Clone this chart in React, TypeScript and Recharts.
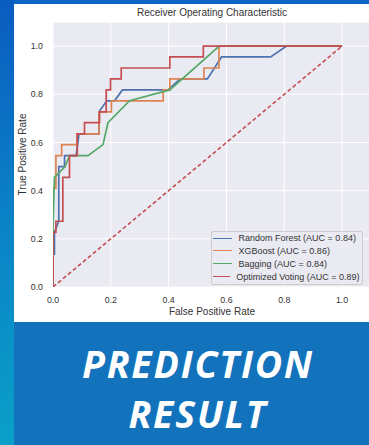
/**
 * ROC curve card — four classifiers plus the chance diagonal,
 * seaborn "darkgrid" look, with a "PREDICTION RESULT" banner below.
 */

import { CartesianGrid, Legend, Line, LineChart, XAxis, YAxis } from "recharts";

const AXIS_TICKS = [0, 0.2, 0.4, 0.6, 0.8, 1.0];

// Random Forest
const rfFpr = [0, 0, 0.005, 0.005, 0.02, 0.02, 0.04, 0.04, 0.08, 0.09, 0.159, 0.159, 0.186, 0.213, 0.24, 0.398, 0.44, 0.534, 0.583, 0.753, 0.808, 1.0];
const rfTpr = [0, 0.136, 0.136, 0.227, 0.273, 0.5, 0.5, 0.545, 0.545, 0.636, 0.636, 0.727, 0.773, 0.773, 0.818, 0.818, 0.864, 0.864, 0.955, 0.955, 1.0, 1.0];

// XGBoost
const xgbFpr = [0, 0, 0.01, 0.01, 0.03, 0.03, 0.083, 0.083, 0.159, 0.159, 0.202, 0.202, 0.381, 0.381, 0.404, 0.404, 0.522, 0.522, 0.574, 0.574, 1.0];
const xgbTpr = [0, 0.409, 0.409, 0.545, 0.545, 0.591, 0.591, 0.636, 0.636, 0.727, 0.727, 0.773, 0.773, 0.818, 0.818, 0.864, 0.864, 0.909, 0.909, 1.0, 1.0];

// Bagging
const bagFpr = [0, 0, 0.005, 0.042, 0.057, 0.121, 0.173, 0.19, 0.265, 0.404, 0.575, 1.0];
const bagTpr = [0, 0.25, 0.455, 0.5, 0.545, 0.545, 0.591, 0.682, 0.773, 0.818, 1.0, 1.0];

// Optimized Voting
const voteFpr = [0, 0, 0.01, 0.01, 0.034, 0.034, 0.057, 0.057, 0.084, 0.084, 0.109, 0.109, 0.161, 0.161, 0.184, 0.184, 0.199, 0.199, 0.236, 0.236, 0.404, 0.404, 0.52, 0.52, 1.0];
const voteTpr = [0, 0.227, 0.227, 0.273, 0.273, 0.455, 0.455, 0.545, 0.545, 0.636, 0.636, 0.682, 0.682, 0.727, 0.727, 0.818, 0.818, 0.864, 0.864, 0.909, 0.909, 0.955, 0.955, 1.0, 1.0];

// chance line
const chanceFpr = [0, 1];
const chanceTpr = [0, 1];

const modelNames = ["Random Forest", "XGBoost", "Bagging", "Optimized Voting"];
const aucScores = ["0.84", "0.86", "0.84", "0.89"];

const FONT = '"Liberation Sans", Arial, sans-serif';
const TEXT_COLOR = "#333333";

interface RocPoint {
  readonly fpr: number;
  readonly tpr: number;
}

function toPoints(fpr: number[], tpr: number[]): RocPoint[] {
  return fpr.map((x, i) => ({ fpr: x, tpr: tpr[i] }));
}

const series = [
  { key: "rf", color: "#4C72B0", points: toPoints(rfFpr, rfTpr) },
  { key: "xgb", color: "#DD8452", points: toPoints(xgbFpr, xgbTpr) },
  { key: "bag", color: "#55A868", points: toPoints(bagFpr, bagTpr) },
  { key: "vote", color: "#C44E52", points: toPoints(voteFpr, voteTpr) },
];

function YAxisTitle(props: any) {
  const vb = props.viewBox ?? { y: 22, height: 265 };
  const cy = vb.y + vb.height / 2;
  return (
    <text
      x={26}
      y={cy}
      transform={`rotate(-90, 26, ${cy})`}
      textAnchor="middle"
      fill={TEXT_COLOR}
      fontSize={10}
      fontFamily={FONT}
    >
      True Positive Rate
    </text>
  );
}

function RocLegend() {
  return (
    <div
      style={{
        width: 152,
        boxSizing: "border-box",
        background: "rgba(234,234,242,0.85)",
        border: "1px solid #cccccc",
        borderRadius: 2,
        padding: "0.3px 2px 1.5px 1px",
        fontFamily: FONT,
        fontSize: 9,
        color: TEXT_COLOR,
      }}
    >
      {series.map((s, i) => (
        <div key={s.key} style={{ display: "flex", alignItems: "center", height: 12.8 }}>
          <span
            style={{
              display: "inline-block",
              width: 19.5,
              borderTop: `1.6px solid ${s.color}`,
              marginRight: 6.6,
            }}
          />
          <span style={{ whiteSpace: "nowrap" }}>
            {`${modelNames[i]} (AUC = ${aucScores[i]})`}
          </span>
        </div>
      ))}
    </div>
  );
}

export default function App() {
  return (
    <div
      style={{
        position: "absolute",
        left: 0,
        top: 0,
        width: 369,
        height: 445,
        overflow: "hidden",
        background: "#1273BC",
      }}
    >
      {/* left accent strip */}
      <div
        style={{
          position: "absolute",
          left: 0,
          top: 0,
          width: 14,
          height: 445,
          background: "linear-gradient(180deg, #0B5CC0 0%, #0A7FC6 45%, #0AA0C8 100%)",
        }}
      />
      {/* top strip */}
      <div style={{ position: "absolute", left: 14, top: 0, width: 355, height: 4, background: "#0D66C6" }} />
      {/* white chart panel */}
      <div style={{ position: "absolute", left: 14, top: 4, width: 355, height: 318, background: "#ffffff" }} />

      <div
        style={{
          position: "absolute",
          left: 53,
          top: 8,
          width: 318,
          textAlign: "center",
          fontFamily: FONT,
          fontSize: 10,
          lineHeight: "10px",
          color: TEXT_COLOR,
          whiteSpace: "nowrap",
        }}
      >
        Receiver Operating Characteristic
      </div>

      <div style={{ position: "absolute", left: 0, top: 0 }}>
        <LineChart width={380} height={322} margin={{ top: 22, right: 9, bottom: 0, left: 0 }}>
          <CartesianGrid fill="#EAEAF2" stroke="#ffffff" strokeWidth={1} />
          <XAxis
            type="number"
            dataKey="fpr"
            domain={[0, 1.1]}
            ticks={AXIS_TICKS}
            tickFormatter={(v: number) => v.toFixed(1)}
            axisLine={false}
            tickLine={false}
            tickSize={0}
            tickMargin={10}
            height={35}
            allowDataOverflow
            tick={{ fill: TEXT_COLOR, fontSize: 8.8, fontFamily: FONT }}
            label={{
              value: "False Positive Rate",
              position: "insideBottom",
              offset: 7,
              fill: TEXT_COLOR,
              fontSize: 10,
              fontFamily: FONT,
            }}
          />
          <YAxis
            type="number"
            domain={[0, 1.1]}
            ticks={AXIS_TICKS}
            tickFormatter={(v: number) => v.toFixed(1)}
            axisLine={false}
            tickLine={false}
            tickSize={0}
            tickMargin={10}
            width={53}
            allowDataOverflow
            tick={{ fill: TEXT_COLOR, fontSize: 8.8, fontFamily: FONT }}
            label={<YAxisTitle />}
          />
          <Line
            data={toPoints(chanceFpr, chanceTpr)}
            dataKey="tpr"
            stroke="#C44E52"
            strokeWidth={1.6}
            strokeDasharray="4 2.5"
            dot={false}
            legendType="none"
            isAnimationActive={false}
          />
          {series.map((s) => (
            <Line
              key={s.key}
              data={s.points}
              dataKey="tpr"
              type="linear"
              stroke={s.color}
              strokeWidth={1.7}
              dot={false}
              isAnimationActive={false}
            />
          ))}
          <Legend
            layout="vertical"
            align="center"
            verticalAlign="middle"
            content={() => <RocLegend />}
            wrapperStyle={{ left: 210.5, top: 230.5, width: 152, height: "auto" }}
          />
        </LineChart>
      </div>

      <div
        style={{
          position: "absolute",
          left: 16,
          top: 339,
          width: 364,
          textAlign: "center",
          fontFamily: '"Open Sans", sans-serif',
          fontWeight: 700,
          fontStyle: "italic",
          fontSize: 37.5,
          letterSpacing: 1.8,
          lineHeight: "50px",
          color: "#ffffff",
        }}
      >
        PREDICTION
        <br />
        RESULT
      </div>
    </div>
  );
}
